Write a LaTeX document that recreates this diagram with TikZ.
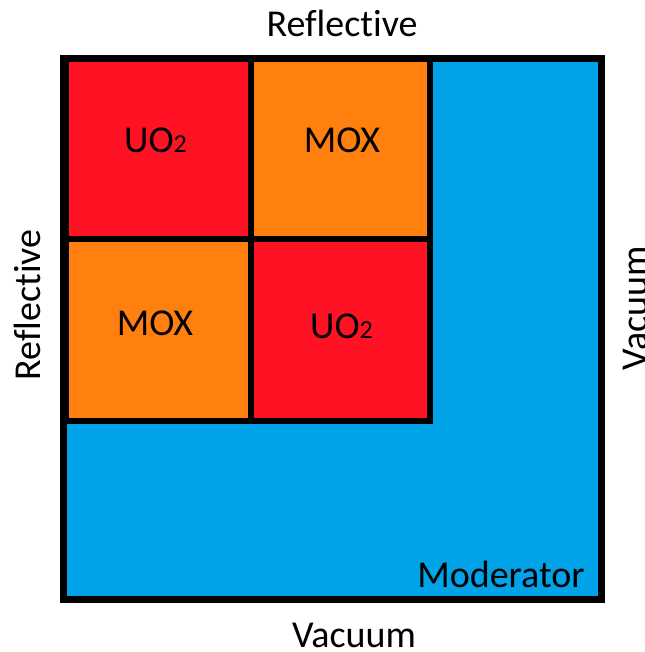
\documentclass[tikz,border=0pt]{standalone}
\usepackage{fontspec}
\setmainfont{Carlito}[Ligatures={NoCommon,NoRare,NoDiscretionary,NoContextual}]
\definecolor{fuelred}{RGB}{255,18,36}
\definecolor{moxorange}{RGB}{255,127,15}
\definecolor{modblue}{RGB}{0,162,232}
\tikzset{
  cell/.style={draw=black, line width=6pt, inner sep=0pt, outer sep=0pt},
  lbl/.style={font=\fontsize{38}{40}\selectfont, inner sep=0pt, anchor=base, text=black}
}
\newcommand{\uotwo}{UO{\fontsize{26}{28}\selectfont 2}}
\begin{document}
\begin{tikzpicture}[x=1pt,y=-1pt]
\useasboundingbox (0,0) rectangle (644,652);
% moderator region
\path[fill=modblue] (63.5,58.5) rectangle (601,599);
% fuel cells
\node[cell, fill=fuelred, minimum width=185pt, minimum height=179pt] (c11) at (158.5,149) {};
\node[cell, fill=moxorange, minimum width=178.5pt, minimum height=179pt] (c12) at (340.25,149) {};
\node[cell, fill=moxorange, minimum width=185pt, minimum height=182.5pt] (c21) at (158.5,329.75) {};
\node[cell, fill=fuelred, minimum width=178.5pt, minimum height=182.5pt] (c22) at (340.25,329.75) {};
% outer border
\node[draw=black, line width=7pt, inner sep=0pt, minimum width=537.5pt, minimum height=540.5pt] (box) at (332.25,328.75) {};
% labels
\node[lbl] (l11) at (155.5,153) {\uotwo};
\node[lbl] (l12) at (342,153) {MOX};
\node[lbl] (l21) at (155,335) {MOX};
\node[lbl] (l22) at (341.5,338) {\uotwo};
\node[lbl] (mod) at (501,587) {Moderator};
\node[lbl] (top) at (342,37) {Reflective};
\node[lbl] (bot) at (354,647) {Vacuum};
\node[lbl, rotate=90] (left) at (40,305) {Reflective};
\node[lbl, rotate=90] (right) at (647,308) {Vacuum};
\end{tikzpicture}
\end{document}
